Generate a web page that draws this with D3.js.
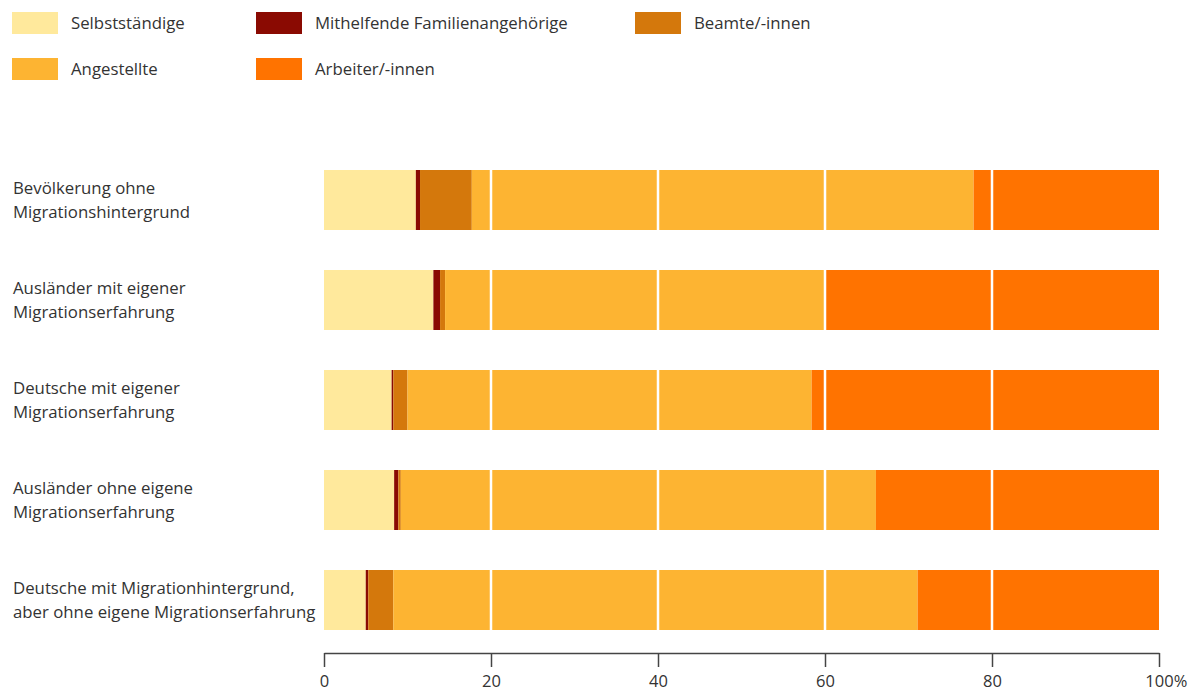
<!DOCTYPE html>
<html>
<head>
<meta charset="utf-8">
<script src="https://cdn.jsdelivr.net/npm/d3@7"></script>
<style>
  html, body { margin: 0; padding: 0; background: #fff; }
  svg { display: block; }
  text { font-family: "Open Sans", "Noto Sans", sans-serif; fill: #333; }
</style>
</head>
<body>
<svg id="chart" width="1193" height="693"></svg>
<script>
const categories = [
  ["Bevölkerung ohne", "Migrationshintergrund"],
  ["Ausländer mit eigener", "Migrationserfahrung"],
  ["Deutsche mit eigener", "Migrationserfahrung"],
  ["Ausländer ohne eigene", "Migrationserfahrung"],
  ["Deutsche mit Migrationhintergrund,", "aber ohne eigene Migrationserfahrung"]
];
const seriesNames = ["Selbstständige", "Mithelfende Familienangehörige", "Beamte/-innen", "Angestellte", "Arbeiter/-innen"];
const selbststaendige = [11.0, 13.1, 8.1, 8.4, 5.0];
const mithelfende     = [0.5, 0.8, 0.2, 0.5, 0.3];
const beamte          = [6.2, 0.6, 1.7, 0.3, 3.0];
const angestellte     = [60.1, 45.5, 48.4, 56.9, 62.8];
const arbeiter        = [22.2, 40.0, 41.6, 33.9, 28.9];
const tickValues = [0, 20, 40, 60, 80, 100];
const tickLabels = ["0", "20", "40", "60", "80", "100%"];
const colors = ["#FFE99C", "#8A0A02", "#D4780C", "#FDB432", "#FF7300"];

const svg = d3.select("#chart");
const x = d3.scaleLinear().domain([0, 100]).range([324, 1159]);
const y = d3.scaleBand().domain(d3.range(categories.length)).range([150, 650]).paddingInner(0.4).paddingOuter(0.2);

const rows = categories.map((c, i) => ({
  i,
  "Selbstständige": selbststaendige[i],
  "Mithelfende Familienangehörige": mithelfende[i],
  "Beamte/-innen": beamte[i],
  "Angestellte": angestellte[i],
  "Arbeiter/-innen": arbeiter[i]
}));
const stacked = d3.stack().keys(seriesNames)(rows);

svg.append("g").selectAll("g").data(stacked).join("g")
  .attr("fill", (d, k) => colors[k])
  .selectAll("rect").data(d => d).join("rect")
  .attr("x", d => x(d[0]))
  .attr("width", d => Math.max(0, x(Math.min(d[1], 100)) - x(d[0])))
  .attr("y", d => y(d.data.i))
  .attr("height", y.bandwidth());

// white gridlines over bars
svg.append("g").selectAll("line").data([20, 40, 60, 80]).join("line")
  .attr("x1", d => x(d)).attr("x2", d => x(d))
  .attr("y1", 160).attr("y2", 640)
  .attr("stroke", "#fff").attr("stroke-width", 2.5);

// category labels
const lab = svg.append("g").selectAll("text").data(categories).join("text")
  .attr("x", 13)
  .attr("y", (d, i) => y(i) + y.bandwidth() / 2)
  .attr("font-size", 16.8);
lab.selectAll("tspan").data(d => d).join("tspan")
  .attr("x", 13)
  .attr("dy", (d, j) => j === 0 ? -6 : 24)
  .text(d => d);

// axis
const axis = d3.axisBottom(x).tickValues(tickValues).tickFormat((d, i) => tickLabels[i]).tickSize(14).tickSizeOuter(0);
const ag = svg.append("g").attr("transform", "translate(0,653)").call(axis);
ag.select(".domain").attr("stroke", "#444").attr("stroke-width", 1.5);
ag.selectAll(".tick line").attr("stroke", "#444").attr("stroke-width", 1.5);
ag.selectAll(".tick text").attr("font-size", 16.5).attr("fill", "#333").attr("dy", "1.05em")
  .attr("font-family", '"Open Sans", "Noto Sans", sans-serif');
// let the "%" hang to the right so the number itself is centred on the tick
ag.selectAll(".tick text").each(function () {
  const s = this.textContent;
  if (s.endsWith("%")) {
    const full = this.getComputedTextLength();
    const num = this.getSubStringLength(0, s.length - 1);
    d3.select(this).attr("x", (full - num) / 2);
  }
});

// legend
const legendPos = [
  [12, 12], [256, 12], [635, 12],
  [12, 58], [256, 58]
];
const leg = svg.append("g").selectAll("g").data(seriesNames).join("g")
  .attr("transform", (d, k) => `translate(${legendPos[k][0]},${legendPos[k][1]})`);
leg.append("rect").attr("width", 46).attr("height", 22).attr("fill", (d, k) => colors[k]);
leg.append("text").attr("x", 59).attr("y", 17).attr("font-size", 16.8).text(d => d);
</script>
</body>
</html>
